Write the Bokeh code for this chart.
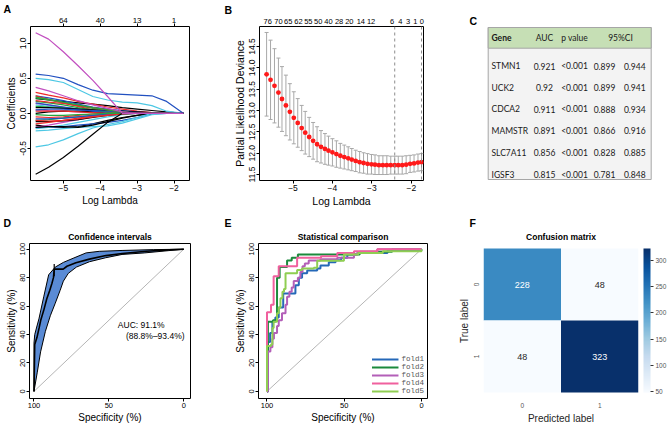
from bokeh.plotting import figure
from bokeh.layouts import row, column
from bokeh.models import (Range1d, LinearAxis, FixedTicker, PrintfTickFormatter, Span, Label, Title,
                          LinearColorMapper, ColorBar, Legend, LegendItem, ColumnDataSource)
from bokeh.palettes import Blues256
from bokeh.embed import file_html
from bokeh.resources import INLINE
from bokeh.core.properties import value

SANS = "Liberation Sans"
MONO = "Liberation Mono"

# ============================ DATA ============================
# ---- A: LASSO coefficient paths (log lambda grid, one list per coefficient)
LAM_A = [-5.75, -5.4, -5.0, -4.6, -4.2, -3.8, -3.4, -3.0, -2.6, -2.2, -1.75]
PATHS_A = [
    ("k", [0.21, 0.19, 0.17, 0.15, 0.13, 0.11, 0.08, 0.06, 0.04, 0.02, 0.0]),
    ("r", [0.30, 0.26, 0.22, 0.17, 0.13, 0.09, 0.06, 0.03, 0.01, 0, 0]),
    ("g", [0.22, 0.19, 0.15, 0.11, 0.07, 0.04, 0.01, 0, 0, 0, 0]),
    ("b", [0.25, 0.22, 0.18, 0.13, 0.09, 0.06, 0.04, 0.02, 0, 0, 0]),
    ("c", [0.12, 0.10, 0.08, 0.05, 0.03, 0.01, 0, 0, 0, 0, 0]),
    ("m", [0.14, 0.12, 0.09, 0.06, 0.03, 0.01, 0, 0, 0, 0, 0]),
    ("k", [-0.17, -0.19, -0.20, -0.19, -0.15, -0.10, -0.06, -0.03, 0, 0, 0]),
    ("r", [0.25, 0.20, 0.15, 0.10, 0.05, 0.02, 0, 0, 0, 0, 0]),
    ("g", [0.10, 0.09, 0.08, 0.06, 0.04, 0.02, 0.01, 0, 0, 0, 0]),
    ("b", [-0.20, -0.20, -0.19, -0.17, -0.15, -0.13, -0.10, -0.06, -0.01, 0, 0]),
    ("c", [-0.25, -0.24, -0.22, -0.20, -0.19, -0.18, -0.14, -0.08, -0.02, 0, 0]),
    ("m", [0.05, 0.04, 0.03, 0.02, 0.01, 0, 0, 0, 0, 0, 0]),
    ("k", [0.0, 0.02, 0.03, 0.03, 0.02, 0.01, 0, 0, 0, 0, 0]),
    ("r", [-0.05, -0.06, -0.05, -0.03, -0.01, 0, 0, 0, 0, 0, 0]),
    ("g", [-0.10, -0.09, -0.07, -0.05, -0.03, -0.01, 0, 0, 0, 0, 0]),
    ("b", [0.15, 0.12, 0.09, 0.06, 0.03, 0.01, 0, 0, 0, 0, 0]),
    ("c", [-0.22, -0.20, -0.17, -0.13, -0.09, -0.05, -0.02, 0, 0, 0, 0]),
    ("m", [-0.20, -0.17, -0.13, -0.09, -0.05, -0.02, 0, 0, 0, 0, 0]),
    ("k", [-0.12, -0.12, -0.11, -0.09, -0.06, -0.03, -0.01, 0, 0, 0, 0]),
    ("r", [-0.15, -0.13, -0.10, -0.07, -0.04, -0.02, 0, 0, 0, 0, 0]),
    ("g", [0.17, 0.15, 0.12, 0.08, 0.05, 0.02, 0, 0, 0, 0, 0]),
    ("b", [-0.08, -0.08, -0.07, -0.05, -0.03, -0.01, 0, 0, 0, 0, 0]),
    ("k", [0.08, 0.08, 0.07, 0.06, 0.05, 0.04, 0.03, 0.02, 0.01, 0, 0]),
    ("r", [0.03, 0.03, 0.03, 0.02, 0.01, 0, 0, 0, 0, 0, 0]),
    ("g", [-0.02, -0.03, -0.03, -0.02, -0.01, 0, 0, 0, 0, 0, 0]),
    ("b", [0.05, 0.06, 0.06, 0.05, 0.04, 0.03, 0.02, 0.01, 0, 0, 0]),
    ("k", [-0.20, -0.19, -0.19, -0.20, -0.17, -0.12, -0.07, -0.03, 0, 0, 0]),
    ("r", [0.18, 0.16, 0.14, 0.11, 0.08, 0.05, 0.02, 0, 0, 0, 0]),
    ("g", [0.23, 0.20, 0.16, 0.12, 0.08, 0.05, 0.02, 0, 0, 0, 0]),
    ("r", [-0.10, -0.11, -0.10, -0.08, -0.05, -0.03, -0.01, 0, 0, 0, 0]),
    ("m", [0.37, 0.32, 0.25, 0.18, 0.12, 0.07, 0.02, 0, 0, 0, 0]),
    ("c", [-0.48, -0.45, -0.38, -0.29, -0.21, -0.16, -0.12, -0.06, 0.0, 0, 0]),
    ("c", [0.50, 0.48, 0.44, 0.34, 0.24, 0.19, 0.16, 0.15, 0.11, 0.03, 0.0]),
    ("b", [0.56, 0.54, 0.50, 0.41, 0.33, 0.28, 0.27, 0.26, 0.25, 0.17, 0.0]),
    ("k", [-0.87, -0.77, -0.63, -0.47, -0.30, -0.13, 0.0, 0, 0, 0, 0]),
    ("m", [1.15, 1.06, 0.88, 0.68, 0.47, 0.24, 0.0, 0, 0, 0, 0]),
]
R_PAL = {"k": "#000000", "r": "#ee2a2a", "g": "#23a640", "b": "#2150c0",
         "c": "#4ec8e4", "m": "#c24fc0"}
A_X_TICKS = [-5, -4, -3, -2]
A_TOP_LABELS = ["64", "40", "13", "1"]
A_Y_TICKS = [-0.5, 0.0, 0.5, 1.0]

# ---- B: cross-validation curve
LAM_B = [-5.67, -5.57, -5.47, -5.37, -5.28, -5.18, -5.08, -4.98, -4.88, -4.78,
         -4.69, -4.59, -4.49, -4.39, -4.29, -4.19, -4.10, -4.00, -3.90, -3.80,
         -3.70, -3.60, -3.51, -3.41, -3.31, -3.21, -3.11, -3.01, -2.92, -2.82,
         -2.72, -2.62, -2.52, -2.42, -2.33, -2.23, -2.13, -2.03, -1.93, -1.83, -1.74]
CVM_B = [13.85, 13.72, 13.58, 13.42, 13.27, 13.12, 12.97, 12.83, 12.71, 12.59,
         12.48, 12.38, 12.29, 12.21, 12.15, 12.10, 12.06, 12.02, 11.98, 11.94,
         11.91, 11.88, 11.85, 11.82, 11.79, 11.77, 11.75, 11.74, 11.73, 11.72,
         11.72, 11.72, 11.72, 11.72, 11.72, 11.72, 11.73, 11.75, 11.76, 11.78, 11.79]
CVSD_B = [0.98, 0.93, 0.87, 0.81, 0.76, 0.71, 0.66, 0.61, 0.57, 0.53,
          0.50, 0.46, 0.43, 0.41, 0.38, 0.36, 0.34, 0.32, 0.31, 0.29,
          0.28, 0.27, 0.26, 0.25, 0.25, 0.24, 0.24, 0.23, 0.23, 0.22,
          0.22, 0.22, 0.21, 0.21, 0.21, 0.21, 0.21, 0.20, 0.20, 0.20, 0.20]
B_TOP_AT = [-5.64, -5.37, -5.12, -4.86, -4.61, -4.36, -4.10, -3.83, -3.57, -3.28,
            -3.02, -2.49, -2.28, -2.08, -1.90, -1.73]
B_TOP_LABELS = ["76", "70", "65", "62", "55", "50", "40", "28", "20", "14",
                "12", "6", "4", "3", "1", "0"]
B_LAMBDA_LINES = [-2.42, -1.74]
B_X_TICKS = [-5, -4, -3, -2]
B_Y_TICKS = [11.5, 12.0, 12.5, 13.0, 13.5, 14.0, 14.5, 15.0]

# ---- C: AUC table
C_HEADER = ["Gene", "AUC", "p value", "95%CI"]
C_GENES = ["STMN1", "UCK2", "CDCA2", "MAMSTR", "SLC7A11", "IGSF3"]
C_AUC = ["0.921", "0.92", "0.911", "0.891", "0.856", "0.815"]
C_P = ["<0.001", "<0.001", "<0.001", "<0.001", "<0.001", "<0.001"]
C_CI_LO = ["0.899", "0.899", "0.888", "0.866", "0.828", "0.781"]
C_CI_HI = ["0.944", "0.941", "0.934", "0.916", "0.885", "0.848"]

# ---- D: ROC with confidence band (specificity %, sensitivity %)
D_SPEC = [100, 99.5, 98, 96.5, 95.5, 93.5, 91.5, 89.5, 88, 87, 86.5, 80.5, 78, 72, 63, 52, 41, 25, 10, 0]
D_SENS = [0, 33, 38, 45, 50, 57, 65, 71, 76, 80, 86, 86, 88, 90.5, 93, 95.5, 97, 98.5, 99.5, 100]
D_UP_SPEC = [100, 99.5, 98, 96.7, 93.5, 90.2, 85.8, 80.4, 73.9, 65.2, 56.4, 41.2, 20, 0]
D_UP_SENS = [34, 40, 46, 51, 66.5, 82, 87.4, 90.7, 93.6, 97.4, 98.5, 99.1, 99.7, 100]
D_LO_SPEC = [100, 97.8, 95.6, 92.4, 89.1, 85.8, 82.6, 80.4, 77.1, 71.7, 62.9, 52.1, 41.2, 26, 10, 0]
D_LO_SENS = [0, 13.5, 27.8, 42.2, 53.2, 62, 70.9, 77.5, 83, 87.4, 91.2, 94, 96.3, 97.4, 99, 100]
D_CI_SPEC = [86.5, 86.5]
D_CI_SENS = [81, 89.5]
D_AUC_TEXT = ["AUC: 91.1%", "(88.8%\u201393.4%)"]
CHANCE_SPEC = [100, 0]
CHANCE_SENS = [0, 100]
ROC_TICKS_X = [100, 50, 0]
ROC_TICKS_Y = [0, 20, 40, 60, 80, 100]

# ---- E: five-fold ROC curves (points after each rise)
FOLDS = [
    ("fold1", "#2568b8",
     [100, 99.4, 98, 96.5, 94.6, 92.4, 89.5, 81.6, 79.4, 77.3, 74, 67.5, 65.4, 60, 55.6, 52, 48, 41.6, 22, 0],
     [0, 34.7, 41, 49, 52, 59, 68.8, 74.7, 80, 83, 85, 86.4, 88.6, 90.8, 92.3, 94, 96.3, 97.4, 99, 100]),
    ("fold2", "#1b8a3c",
     [100, 99.4, 96.1, 93.5, 91.8, 87, 84, 80, 40, 19, 0],
     [0, 49, 50, 80, 87.5, 92, 94, 96.3, 98.2, 100, 100]),
    ("fold3", "#b35fb8",
     [100, 99.4, 97.8, 96.5, 95.5, 93.5, 92.4, 90.3, 88, 87, 85.5, 84, 82.7, 80, 78.4, 77, 75.5, 73, 65.4, 54.5, 43.7, 41.6, 28.6, 0],
     [0, 28, 31, 37, 41, 46, 50, 55, 61, 66.6, 70, 73, 77.6, 80, 84, 88, 90, 92, 93, 94, 96.3, 97.4, 100, 100]),
    ("fold4", "#f0609e",
     [100, 100, 97.4, 95.7, 92.4, 80.5, 65, 54.5, 43.7, 28.6, 0],
     [0, 55.6, 61, 81, 88, 94, 95, 97.4, 98.5, 100, 100]),
    ("fold5", "#8fce52",
     [100, 100, 97.4, 96.5, 95.7, 93.5, 92.4, 91.3, 90, 89, 88, 80.5, 77.3, 69.7, 67.5, 50.2, 41, 25, 0],
     [0, 32, 33, 44.6, 49, 55, 59, 65.5, 70, 72, 83, 85.3, 86.4, 87, 91.9, 96.3, 97.4, 98.5, 100]),
]

# ---- F: confusion matrix
F_TRUE = [0, 0, 1, 1]
F_PRED = [0, 1, 0, 1]
F_COUNT = [228, 48, 48, 323]
F_TICKS = [0, 1]
F_CB_TICKS = [50, 100, 150, 200, 250, 300]

# ============================ LAYOUT (px) ============================
ROW1_H, ROW2_H = 210, 216
W_A, W_B, W_C = 223, 227, 218
R1_TOP, R1_BOT = 26, 30
R2_TOP, R2_BOT = 33, 28


# ============================ HELPERS ============================
def base_fig(w, h, xr, yr, bl, br, bt, bb, **extra):
    p = figure(width=w, height=h, x_range=xr, y_range=yr, title=None,
               min_border_left=bl, min_border_right=br, min_border_top=bt, min_border_bottom=bb,
               output_backend="svg", toolbar_location=None, tools="", **extra)
    p.grid.visible = False
    p.background_fill_color = "white"
    p.border_fill_color = "white"
    return p


def add_title(p, text):
    p.add_layout(Title(text=text, align="center", standoff=3, text_font=SANS,
                       text_font_size="8.5px", text_font_style="bold", text_color="black"), "above")


def add_letter(p, ch, offset):
    p.add_layout(Title(text=ch, align="left", offset=offset, standoff=0, text_font=SANS,
                       text_font_size="10.5px", text_font_style="bold", text_color="black"), "above")


def r_axes(p, xticks, yticks, xlabel, ylabel, yfmt=None, lab_size="10px", tick_size="8.5px"):
    p.outline_line_color = "black"
    p.outline_line_width = 1
    p.xaxis.ticker = FixedTicker(ticks=xticks)
    p.yaxis.ticker = FixedTicker(ticks=yticks)
    if yfmt:
        p.yaxis.formatter = PrintfTickFormatter(format=yfmt)
    p.yaxis.major_label_orientation = "vertical"
    p.xaxis.axis_label = xlabel
    p.yaxis.axis_label = ylabel
    for ax in list(p.xaxis) + list(p.yaxis):
        ax.axis_line_color = None
        ax.major_tick_out = 3
        ax.major_tick_in = 0
        ax.major_tick_line_color = "black"
        ax.minor_tick_line_color = None
        ax.major_label_text_font = SANS
        ax.major_label_text_font_size = tick_size
        ax.major_label_text_color = "black"
        ax.major_label_standoff = 1
        ax.axis_label_text_font = SANS
        ax.axis_label_text_font_size = lab_size
        ax.axis_label_text_font_style = "normal"
        ax.axis_label_text_color = "black"
        ax.axis_label_standoff = 1


# ============================ A ============================
pA = base_fig(W_A, ROW1_H, Range1d(-5.89, -1.58), Range1d(-0.96, 1.24), 30, 34, R1_TOP, R1_BOT)
for col, vals in PATHS_A:
    pA.line(LAM_A, vals, line_color=R_PAL[col], line_width=1.2)
r_axes(pA, A_X_TICKS, A_Y_TICKS, "Log Lambda", "Coefficients", yfmt="%.1f")
topA = LinearAxis(ticker=FixedTicker(ticks=A_X_TICKS),
                  major_label_overrides={t: s for t, s in zip(A_X_TICKS, A_TOP_LABELS)},
                  axis_line_color=None, major_tick_out=3, major_tick_in=0, minor_tick_line_color=None,
                  major_tick_line_color="black",
                  major_label_text_font=SANS, major_label_text_font_size="8px",
                  major_label_text_color="black", major_label_standoff=1)
pA.add_layout(topA, "above")
add_letter(pA, "A", -27)

# ============================ B ============================
pB = base_fig(W_B, ROW1_H, Range1d(-5.85, -1.69), Range1d(11.36, 14.97), 36, 27, R1_TOP, R1_BOT)
lo_B = [m - s for m, s in zip(CVM_B, CVSD_B)]
hi_B = [m + s for m, s in zip(CVM_B, CVSD_B)]
pB.segment(x0=LAM_B, y0=lo_B, x1=LAM_B, y1=hi_B, line_color="#a8a8a8", line_width=1)
pB.scatter(LAM_B, lo_B, marker="dash", size=4, line_color="#a8a8a8")
pB.scatter(LAM_B, hi_B, marker="dash", size=4, line_color="#a8a8a8")
pB.scatter(LAM_B, CVM_B, size=4.8, fill_color="#ff1a1a", line_color=None)
for lv in B_LAMBDA_LINES:
    pB.add_layout(Span(location=lv, dimension="height", line_color="#8c8c8c",
                       line_dash="3 3", line_width=1))
r_axes(pB, B_X_TICKS, B_Y_TICKS, "Log Lambda", "Partial Likelihood Deviance", yfmt="%.1f",
       lab_size="10.5px")
topB = LinearAxis(ticker=FixedTicker(ticks=B_TOP_AT),
                  major_label_overrides={t: s for t, s in zip(B_TOP_AT, B_TOP_LABELS)},
                  axis_line_color=None, major_tick_out=0, major_tick_in=0,
                  major_tick_line_color=None, minor_tick_line_color=None,
                  major_label_text_font=SANS, major_label_text_font_size="7.5px",
                  major_label_text_color="black", major_label_standoff=3)
pB.add_layout(topB, "above")
add_letter(pB, "B", -35)

# ============================ C ============================
# coordinates of the table are page pixels (frame spans y 26..180, x 450..668)
pC = base_fig(W_C, ROW1_H, Range1d(450, 668), Range1d(ROW1_H - R1_BOT, R1_TOP), 0, 0, R1_TOP, R1_BOT,
              x_axis_type=None, y_axis_type=None)
pC.outline_line_color = None
T_LEFT, T_RIGHT, T_TOP, T_HEAD, T_BOT = 487.7, 650.7, 27, 47.7, 179
ROW_Y = [65.7, 87, 108.7, 130.3, 152.3, 174]
COL_X = {"gene": 491, "auc": 544, "p": 574, "lo": 604, "hi": 634.3, "ci": 620}
pC.quad(left=[T_LEFT], right=[T_RIGHT], top=[T_TOP], bottom=[T_BOT],
        fill_color="#f3f3f3", line_color="#a6a6a6", line_width=1)
pC.quad(left=[T_LEFT], right=[T_RIGHT], top=[T_TOP], bottom=[T_HEAD],
        fill_color="#c6dfb5", line_color="#a6a6a6", line_width=1)
HEAD_Y = (T_TOP + T_HEAD) / 2
pC.text(x=[COL_X["gene"]], y=[HEAD_Y], text=[C_HEADER[0]], text_font=value("Lato"),
        text_font_size="8.5px", text_font_style="bold", text_align="left", text_baseline="middle",
        text_color="#1a1a1a")
pC.text(x=[COL_X["auc"], COL_X["p"], COL_X["ci"]], y=[HEAD_Y] * 3, text=C_HEADER[1:],
        text_font=value("Lato"), text_font_size="8.5px", text_align="center",
        text_baseline="middle", text_color="#1a1a1a")
pC.text(x=[COL_X["gene"]] * len(C_GENES), y=ROW_Y, text=C_GENES, text_font=value("Lato"),
        text_font_size="8.5px", text_align="left", text_baseline="middle", text_color="#1a1a1a")
for key, colvals in (("auc", C_AUC), ("p", C_P), ("lo", C_CI_LO), ("hi", C_CI_HI)):
    pC.text(x=[COL_X[key]] * len(colvals), y=ROW_Y, text=colvals, text_font=value("Lato"),
            text_font_size="8.5px", text_align="center", text_baseline="middle",
            text_color="#1a1a1a")
add_letter(pC, "C", 19)

# ============================ D ============================
pD = base_fig(W_A, ROW2_H, Range1d(103, -4.5), Range1d(-5, 104), 29, 33, R2_TOP, R2_BOT)
pD.line(CHANCE_SPEC, CHANCE_SENS, line_color="#b5b5b5", line_width=1)
band_x = D_UP_SPEC + D_LO_SPEC[::-1]
band_y = D_UP_SENS + D_LO_SENS[::-1]
pD.patch(band_x, band_y, fill_color="#5a8bd5", line_color="black", line_width=1)
pD.line(D_SPEC, D_SENS, line_color="black", line_width=1.6)
pD.line(D_CI_SPEC, D_CI_SENS, line_color="black", line_width=1.2)
pD.add_layout(Label(x=44, y=47, text=D_AUC_TEXT[0], text_font=SANS, text_font_size="8.5px",
                    text_baseline="middle", text_align="left", text_color="black"))
pD.add_layout(Label(x=38.6, y=39.3, text=D_AUC_TEXT[1], text_font=SANS, text_font_size="8.5px",
                    text_baseline="middle", text_align="left", text_color="black"))
r_axes(pD, ROC_TICKS_X, ROC_TICKS_Y, "Specificity (%)", "Sensitivity (%)", tick_size="7.5px")
add_title(pD, "Confidence intervals")
add_letter(pD, "D", -26)

# ============================ E ============================
pE = base_fig(W_B, ROW2_H, Range1d(105.5, -3.9), Range1d(-5, 104), 35, 23, R2_TOP, R2_BOT)
pE.line(CHANCE_SPEC, CHANCE_SENS, line_color="#b5b5b5", line_width=1)
items = []
for name, colr, spec, sens in FOLDS:
    r = pE.step(spec, sens, mode="after", line_color=colr, line_width=2)
    items.append(LegendItem(label=name, renderers=[r]))
leg = Legend(items=items, location="bottom_right", margin=3, padding=0, spacing=-3,
             glyph_width=27, glyph_height=6, label_height=6, label_standoff=3,
             label_text_font=MONO, label_text_font_size="7.5px", label_text_color="#555555",
             label_text_line_height=0.9,
             border_line_color=None, background_fill_alpha=0)
pE.add_layout(leg)
r_axes(pE, ROC_TICKS_X, ROC_TICKS_Y, "Specificity (%)", "Sensitivity (%)", tick_size="7.5px")
add_title(pE, "Statistical comparison")
add_letter(pE, "E", -34)

# ============================ F ============================
pF = base_fig(W_C, ROW2_H, Range1d(-0.5, 1.5), Range1d(1.583, -0.57), 33, 30, R2_TOP, R2_BOT)
mapper = LinearColorMapper(palette=list(Blues256[::-1]), low=min(F_COUNT), high=max(F_COUNT))
f_src = ColumnDataSource(dict(
    pred=F_PRED, true=F_TRUE, count=F_COUNT, label=[str(v) for v in F_COUNT],
    tcol=["white" if v > 150 else "#262626" for v in F_COUNT]))
pF.rect(x="pred", y="true", width=1, height=1, source=f_src,
        fill_color={"field": "count", "transform": mapper}, line_color=None)
pF.text(x="pred", y="true", text="label", source=f_src, text_color="tcol",
        text_font=value(SANS), text_font_size="9px", text_align="center", text_baseline="middle")
pF.outline_line_color = None
pF.xaxis.ticker = FixedTicker(ticks=F_TICKS)
pF.yaxis.ticker = FixedTicker(ticks=F_TICKS)
pF.yaxis.major_label_orientation = "vertical"
pF.xaxis.axis_label = "Predicted label"
pF.yaxis.axis_label = "True label"
for ax in list(pF.xaxis) + list(pF.yaxis):
    ax.axis_line_color = None
    ax.major_tick_line_color = None
    ax.minor_tick_line_color = None
    ax.major_tick_out = 0
    ax.major_tick_in = 0
    ax.major_label_text_font = SANS
    ax.major_label_text_font_size = "6.5px"
    ax.major_label_text_color = "#555555"
    ax.major_label_standoff = 4
    ax.axis_label_text_font = SANS
    ax.axis_label_text_font_size = "10px"
    ax.axis_label_text_font_style = "normal"
    ax.axis_label_text_color = "#262626"
    ax.axis_label_standoff = 2
cb = ColorBar(color_mapper=mapper, ticker=FixedTicker(ticks=F_CB_TICKS), location=(160, 6),
              width=7, height=144, padding=0, margin=0,
              major_label_text_font=SANS, major_label_text_font_size="6.5px",
              major_label_text_color="#555555", major_tick_out=3, major_tick_in=0,
              major_tick_line_color="#333333", minor_tick_line_color=None,
              bar_line_color=None, border_line_color=None, background_fill_alpha=0,
              label_standoff=2)
pF.add_layout(cb)
add_title(pF, "Confusion matrix")
add_letter(pF, "F", -14)

layout = column(row(pA, pB, pC), row(pD, pE, pF))
open("out.html", "w").write(file_html(layout, INLINE))
